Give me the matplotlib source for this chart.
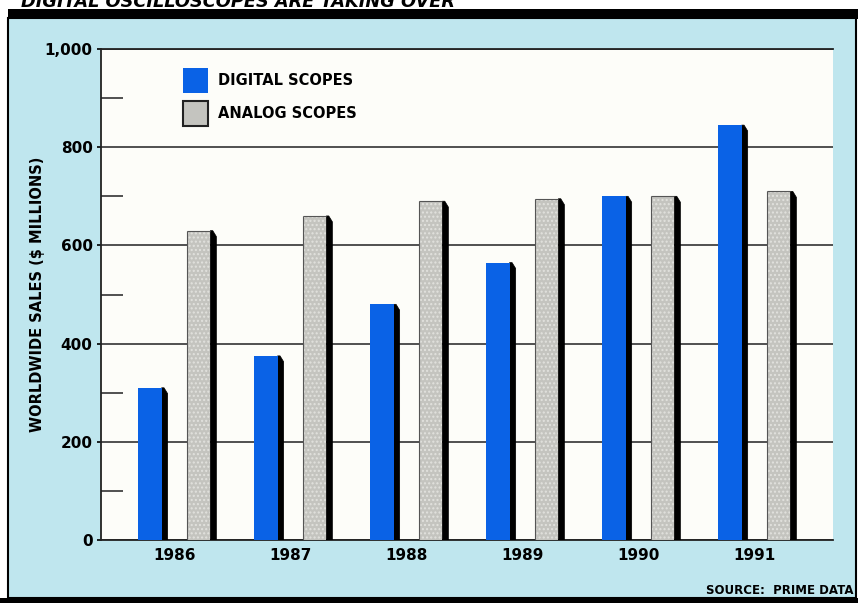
import matplotlib.pyplot as plt
from matplotlib.patches import Rectangle, Polygon
import numpy as np

years = ['1986', '1987', '1988', '1989', '1990', '1991']
digital = [310, 375, 480, 565, 700, 845]
analog = [630, 660, 690, 695, 700, 710]

yticks = [0, 200, 400, 600, 800, 1000]
ytick_labels = ['0', '200', '400', '600', '800', '1,000']

BLUE = '#0a62e6'
GRAY = '#c4c4bf'
SKY = '#bfe6ee'
PAPER = '#fdfdf9'
FONT = ['Liberation Sans Narrow', 'DejaVu Sans Condensed', 'DejaVu Sans']

fig = plt.figure(figsize=(8.58, 6.03), dpi=100)
fig.patch.set_facecolor('white')

# panel background, border and heavy rule under the headline
fig.add_artist(Rectangle((8 / 858, 5 / 603), 848 / 858, 580 / 603, transform=fig.transFigure,
                         facecolor=SKY, edgecolor='black', linewidth=1.5, zorder=0))
fig.add_artist(Rectangle((8 / 858, 584 / 603), 850 / 858, 10 / 603, transform=fig.transFigure,
                         facecolor='black', edgecolor='none', zorder=1))
fig.add_artist(Rectangle((0, 0), 1, 5 / 603, transform=fig.transFigure,
                         facecolor='black', edgecolor='none', zorder=1))
fig.text(0.025, 1 - 7 / 603, 'DIGITAL OSCILLOSCOPES ARE TAKING OVER', fontsize=12.8,
         fontweight='bold', fontstyle='italic', family=FONT, va='baseline', ha='left')

ax = fig.add_axes([101 / 858, 1 - 540 / 603, 732 / 858, 491 / 603])
ax.set_facecolor(PAPER)

x = np.arange(len(years))
w = 0.205
off = 0.21
sd = 0.052  # shadow depth
sdrop = 12

def draw_bar(xc, v, color, hatch=None):
    right = xc + w / 2
    shadow = Polygon([(right, 0), (right, v), (right + sd * 0.4, v), (right + sd, v - sdrop),
                      (right + sd, 0)], closed=True, facecolor='black', edgecolor='black',
                     linewidth=0.5, zorder=3)
    ax.add_patch(shadow)
    ax.bar(xc, v, width=w, color=color, edgecolor='#e2e2de' if hatch else color,
           linewidth=0.0, hatch=hatch, zorder=4)
    if hatch:
        ax.vlines(xc - w / 2, 0, v, color='#555555', linewidth=0.8, zorder=5)
        ax.hlines(v, xc - w / 2, right, color='#555555', linewidth=0.8, zorder=5)

for i in range(len(years)):
    draw_bar(x[i] - off, digital[i], BLUE)
    draw_bar(x[i] + off, analog[i], GRAY, hatch='....')

ax.set_xlim(-0.63, len(years) - 1 + 0.68)
ax.set_ylim(0, 1000)

ax.set_yticks(yticks)
ax.set_yticklabels(ytick_labels)
ax.set_yticks(np.arange(100, 1000, 200), minor=True)
ax.tick_params(axis='y', which='minor', direction='in', length=16, width=1.2, color='#333333')
ax.tick_params(axis='y', which='major', direction='out', length=3, width=1.2, pad=3)
ax.grid(axis='y', which='major', color='#333333', linewidth=1.2, zorder=1)
ax.set_axisbelow(True)

ax.set_xticks(x)
ax.set_xticklabels(years)
ax.tick_params(axis='x', length=0, pad=6)
for lab in ax.get_xticklabels() + ax.get_yticklabels():
    lab.set_family(FONT)
    lab.set_fontweight('bold')
    lab.set_fontsize(11)

for side in ['top', 'bottom', 'left']:
    ax.spines[side].set_color('#222222')
    ax.spines[side].set_linewidth(1.3)
ax.spines['right'].set_visible(False)

ax.set_ylabel('WORLDWIDE SALES ($ MILLIONS)', family=FONT, fontweight='bold', fontsize=10.5)
ax.yaxis.set_label_coords((45 - 101) / 732, 0.5)

# key in the upper left corner
ax.add_patch(Rectangle((0.112, 0.910), 0.034, 0.051, transform=ax.transAxes,
                       facecolor=BLUE, edgecolor='none', zorder=5))
ax.add_patch(Rectangle((0.112, 0.843), 0.034, 0.051, transform=ax.transAxes,
                       facecolor=GRAY, edgecolor='#222222', linewidth=1.5, zorder=5))
ax.text(0.160, 0.935, 'DIGITAL SCOPES', transform=ax.transAxes, family=FONT,
        fontweight='bold', fontsize=10.5, va='center')
ax.text(0.160, 0.868, 'ANALOG SCOPES', transform=ax.transAxes, family=FONT,
        fontweight='bold', fontsize=10.5, va='center')

fig.text(0.995, 1 - 590 / 603, 'SOURCE:  PRIME DATA', family=FONT, fontweight='bold',
         fontsize=8.5, ha='right', va='center')

fig.savefig('out.png', dpi=100)
